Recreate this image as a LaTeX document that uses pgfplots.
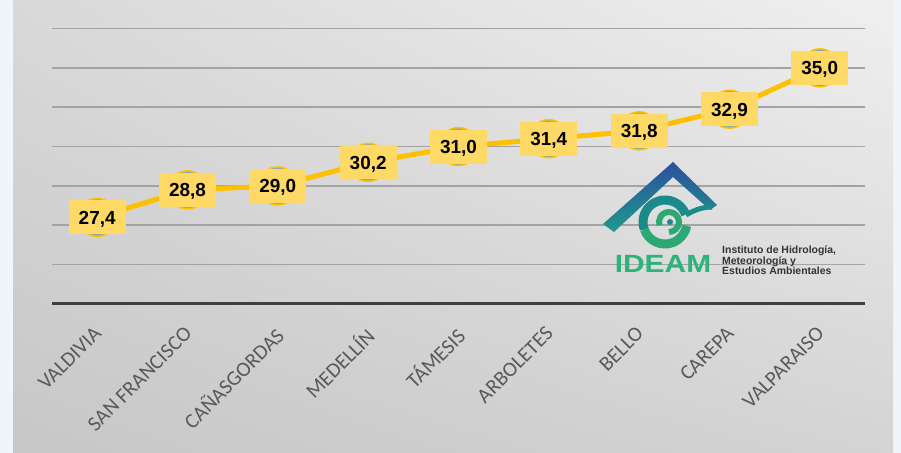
\documentclass[border=0pt]{standalone}
\usepackage{pgfplots}
\pgfplotsset{compat=1.18}
\usetikzlibrary{shadings}
\usepackage{fontspec}
\setmainfont{Liberation Sans}
\newfontfamily\calibri{Carlito}

\definecolor{paleblue}{HTML}{EEF5FB}
\definecolor{gold}{HTML}{FFC000}
\definecolor{labelyellow}{HTML}{FFD966}
\definecolor{markfill}{HTML}{8AAE9E}
\definecolor{gridgray}{HTML}{A3A3A3}
\definecolor{axisdark}{HTML}{3F3F3F}
\definecolor{tickgray}{HTML}{595959}
\definecolor{roofblue}{HTML}{2D4F9E}
\definecolor{roofteal}{HTML}{1E9A8C}
\definecolor{swirlteal}{HTML}{1A8A8A}
\definecolor{swirlgreen}{HTML}{2DA874}
\definecolor{ideamgreen}{HTML}{2DB47A}
\definecolor{logotext}{HTML}{333333}

\begin{document}
\begin{tikzpicture}[x=1bp,y=1bp]
% background panel
\fill[paleblue] (0,0) rectangle (901,453);
\shade[upper left=black!15, upper right=black!6, lower left=black!22, lower right=black!17]
  (13,0) rectangle (893,453);

\begin{axis}[
    at={(52bp,149bp)}, anchor=south west,
    scale only axis, width=813bp, height=304bp,
    xmin=-0.5, xmax=8.5, ymin=23, ymax=38.45,
    clip=false,
    axis x line*=bottom, axis y line*=left,
    x axis line style={draw=axisdark, line width=3bp, -},
    y axis line style={draw=none},
    xtick=data,
    xticklabels={VALDIVIA, SAN FRANCISCO, CAÑASGORDAS, MEDELLÍN, TÁMESIS,
                 ARBOLETES, BELLO, CAREPA, VALPARAISO},
    xticklabel style={rotate=45, anchor=north east, inner sep=0pt,
                      font=\calibri\fontsize{21}{21}\selectfont, text=tickgray,
                      xshift=-18bp, yshift=-12bp},
    ytick={25,27,...,37},
    yticklabels={},
    major tick length=0pt,
    ymajorgrids,
    major grid style={draw=gridgray, line width=1.6bp},
    /pgf/number format/assume math mode=true,
]
\addplot[color=gold, line width=5bp,
    mark=*, mark size=19bp,
    mark options={fill=markfill, draw=gold, line width=1.5bp},
    nodes near coords={\pgfmathprintnumber[fixed, fixed zerofill, precision=1, use comma]{\pgfplotspointmeta}},
    every node near coord/.append style={anchor=center, fill=labelyellow, text=black,
        font=\bfseries\fontsize{19}{19}\selectfont,
        inner xsep=10bp, inner ysep=0pt, text height=24bp, text depth=10bp},
] coordinates {
    (0,27.4) (1,28.8) (2,29.0) (3,30.2) (4,31.0)
    (5,31.4) (6,31.8) (7,32.9) (8,35.0)
};
\end{axis}

% IDEAM logo (approximation)
\shade[top color=roofblue, bottom color=roofteal]
  (603,229) -- (673,291) -- (717,248) -- (710,243) -- (673,276) -- (614,221) -- cycle;
\draw[line width=9bp, swirlteal] (665,231) ++(20:22) arc[start angle=20, end angle=200, radius=22];
\draw[line width=9bp, swirlgreen] (665,231) ++(200:22) arc[start angle=200, end angle=350, radius=22];
\draw[line width=5bp, swirlteal] (686,238) .. controls (696,244) and (704,246) .. (712,246);
\draw[line width=6bp, swirlgreen] (669,231) ++(270:10) arc[start angle=270, end angle=560, radius=10];
\fill[swirlteal] (670,231) circle (3bp);
\node[font=\bfseries\fontsize{25}{25}\selectfont, text=ideamgreen, xscale=1.2] at (663,189) {IDEAM};
\node[anchor=north west, inner sep=0pt, align=left, text=logotext,
      font=\bfseries\fontsize{10.5}{10.5}\selectfont] at (722,207)
  {Instituto de Hidrología,\\Meteorología y\\Estudios Ambientales};

\pgfresetboundingbox
\path (0,0) rectangle (901,453);
\end{tikzpicture}
\end{document}
